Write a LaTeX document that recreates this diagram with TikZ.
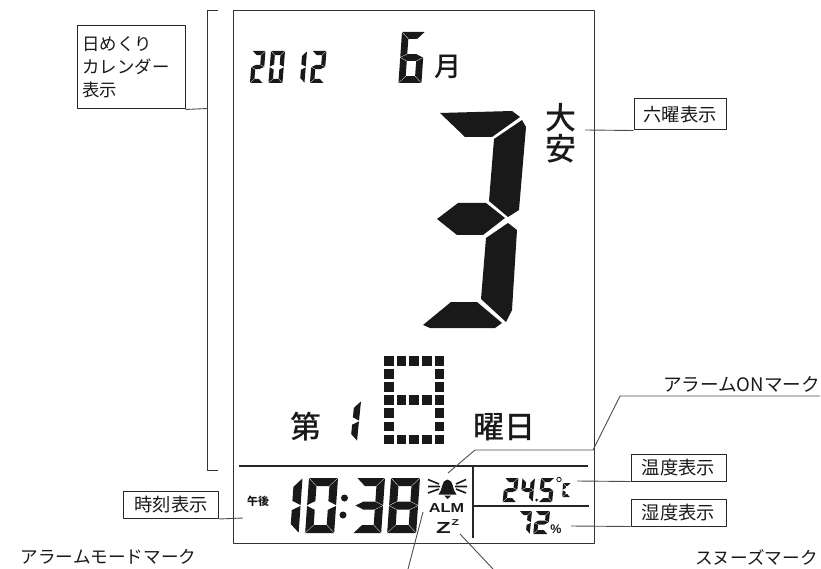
\documentclass[tikz,border=0pt]{standalone}
\usepackage{fontspec}
\setmainfont{Noto Sans CJK JP}
\newfontfamily\medfont{Noto Sans CJK JP Medium}
\newfontfamily\latinfont{Liberation Sans}
\begin{document}
\begin{tikzpicture}[x=1pt,y=-1pt,line join=round,
	framesty/.style={draw=black!80,line width=1pt},
	lcdline/.style={draw=black!85,line width=1.4pt},
	leader/.style={draw=black!70,line width=.9pt},
	boxlabel/.style={draw=black!85,line width=1pt,fill=white,inner sep=0pt,minimum width=95pt,minimum height=27pt,font=\fontsize{18.3}{20}\selectfont,text=black!90},
	marklabel/.style={inner sep=0pt,font=\fontsize{17.6}{20}\selectfont,text=black!90},
	dispkanji/.style={inner sep=0pt,font=\medfont\fontsize{31}{32}\selectfont,text=black!90}]
	\useasboundingbox (0,0) rectangle (821,569);
	\def\lcda{\fill (\digg,0)--({\digw-\digg},0)--({\digw-\digt-\digg},\digt)--({\digt+\digg},\digt)--cycle;}
	\def\lcdb{\fill (\digw,\digg)--(\digw,{\digh/2-\digg})--({\digw-\digt},{\digh/2-\digt/2-\digg})--({\digw-\digt},{\digt+\digg})--cycle;}
	\def\lcdc{\fill (\digw,{\digh/2+\digg})--(\digw,{\digh-\digg})--({\digw-\digt},{\digh-\digt-\digg})--({\digw-\digt},{\digh/2+\digt/2+\digg})--cycle;}
	\def\lcdd{\fill (\digg,\digh)--({\digw-\digg},\digh)--({\digw-\digt-\digg},{\digh-\digt})--({\digt+\digg},{\digh-\digt})--cycle;}
	\def\lcde{\fill (0,{\digh/2+\digg})--(0,{\digh-\digg})--(\digt,{\digh-\digt-\digg})--(\digt,{\digh/2+\digt/2+\digg})--cycle;}
	\def\lcdf{\fill (0,\digg)--(0,{\digh/2-\digg})--(\digt,{\digh/2-\digt/2-\digg})--(\digt,{\digt+\digg})--cycle;}
	\def\lcdg{\fill (\digg,{\digh/2})--({\digt+\digg},{\digh/2-\digt/2})--({\digw-\digt-\digg},{\digh/2-\digt/2})--({\digw-\digg},{\digh/2})--({\digw-\digt-\digg},{\digh/2+\digt/2})--({\digt+\digg},{\digh/2+\digt/2})--cycle;}
	\def\lcd#1#2#3#4#5#6#7{\begin{scope}[shift={(#1,#2)},xslant=#6,fill=black!90]\def\digw{#3}\def\digh{#4}\def\digt{#5}\def\digg{.4}\foreach \s in {#7}{\csname lcd\s\endcsname}\end{scope}}
	% display frame
	\draw[framesty] (233,11) rectangle (594,543);
	\draw[lcdline] (239,466)--(588,466) (473,466)--(473,538) (473,506)--(589,506);
	\draw[framesty] (217.5,11)--(207.5,11)--(207.5,470.5)--(217.5,470.5);
	% date digits
	\lcd{252.5}{51}{13}{32}{4.2}{.08}{a,b,g,e,d}
	\lcd{271}{51}{14}{32}{4.2}{.08}{a,b,c,d,e,f}
	\lcd{298}{51}{9}{32}{4.6}{.08}{b,c}
	\lcd{312.5}{51}{14}{32}{4.2}{.08}{a,b,g,e,d}
	\lcd{402}{32}{23}{51}{6.8}{.07}{a,f,g,e,c,d}
	\node[dispkanji,font=\medfont\fontsize{27}{28}\selectfont] (month) at (448,67) {月};
	% big day digit
	\fill[black!90] (440,113)--(512,111)--(520,117)--(492,137)--(465,137)--cycle;
	\fill[black!90] (522,120)--(526,127)--(519,210)--(508,217)--(489,201)--(494,139)--cycle;
	\fill[black!90] (437,219)--(458,203)--(486,203)--(505,218)--(483,235)--(457,235)--cycle;
	\fill[black!90] (508,223)--(517,230)--(512,310)--(506,322)--(481,299)--(486,238)--cycle;
	\fill[black!90] (423,325)--(451,302)--(477,302)--(502,323)--(495,328)--(430,328)--cycle;
	\node[dispkanji] (rokuyo) at (561,118) {大};
	\node[dispkanji] (rokuyob) at (561,149) {安};
	% week row
	\node[dispkanji] (dai) at (306,427) {第};
	\lcd{351}{401}{10}{40}{6.5}{.1}{b,c}
	\foreach \i in {0,...,4} \foreach \j in {0,...,6}{
		\ifnum\j=0 \def\dotok{1}\else\ifnum\j=3 \def\dotok{1}\else\ifnum\j=6 \def\dotok{1}\else\ifnum\i=0 \def\dotok{1}\else\ifnum\i=4 \def\dotok{1}\else\def\dotok{0}\fi\fi\fi\fi\fi
		\ifnum\dotok=1 \fill[black!90] ({384+12.67*\i},{356+13.1*\j}) rectangle +(9.7,9.8);\fi}
	\node[dispkanji] (youbi) at (504,427) {曜日};
	% clock
	\node[dispkanji,font=\medfont\fontsize{11}{12}\selectfont\bfseries] (gogo) at (258,501) {午後};
	\lcd{291.5}{478}{11}{55}{8.5}{.07}{b,c}
	\lcd{309}{478}{29}{55}{8}{.07}{a,b,c,d,e,f}
	\fill[black!90] (344.5,498) circle (3.5) (343,515) circle (3.5);
	\lcd{357}{478}{28}{55}{8}{.07}{a,b,c,d,g}
	\lcd{391}{478}{29}{55}{8}{.07}{a,b,c,d,e,f,g}
	% bell and rays
	\fill[black!90] (447.5,479.5) .. controls (441,480) and (443,490) .. (438.5,494.5)--(456.5,494.5) .. controls (452,490) and (454,480) .. (447.5,479.5)--cycle;
	\fill[black!90] (444,495.5)--(451,495.5)--(447.5,499)--cycle;
	\draw[black!90,line width=1.6pt] (428,479.5)--(439,484) (428,486.5)--(440,486.5) (428,493)--(439,489) (456,484)--(466,479.5) (455,486.5)--(467,486.5) (456,489)--(466,493);
	\node[inner sep=0pt,xscale=1.25,font=\latinfont\fontsize{13}{14}\selectfont\bfseries,text=black!90] (alm) at (446.5,508.5) {ALM};
	\node[inner sep=0pt,xscale=1.5,font=\latinfont\fontsize{16}{17}\selectfont\bfseries,text=black!90] (zbig) at (443.5,527.5) {Z};
	\node[inner sep=0pt,xscale=1.45,font=\latinfont\fontsize{8.5}{9}\selectfont\bfseries,text=black!90] (zsmall) at (455.5,523) {Z};
	% temperature and humidity
	\lcd{505}{478}{13.5}{24}{4}{.1}{a,b,g,e,d}
	\lcd{522.5}{478}{12.5}{24}{4}{.1}{f,g,b,c}
	\fill[black!90] (536.5,500) circle (1.5);
	\lcd{541}{478}{13.5}{24}{4}{.1}{a,f,g,c,d}
	\draw[black!90,line width=.8pt] (559,479.5) circle (2.2);
	\lcd{563}{483}{8}{14}{3}{.05}{a,f,e,d}
	\lcd{519.5}{511}{12.5}{23}{4}{.1}{a,b,c}
	\lcd{535.5}{511}{14.5}{23}{4}{.1}{a,b,g,e,d}
	\node[inner sep=0pt,font=\latinfont\fontsize{12.5}{13}\selectfont\bfseries,text=black!90] (pct) at (556,529) {\%};
	% labels
	\node[boxlabel,minimum width=107.5pt,minimum height=83pt,text width=97.5pt,align=left,font=\fontsize{17.4}{22.8}\selectfont] (calbox) at (131.25,67.5) {日めくり\\カレンダー\\表示};
	\node[boxlabel] (clockbox) at (171,505) {時刻表示};
	\node[boxlabel,minimum width=92pt,minimum height=31pt] (rokubox) at (680,114.5) {六曜表示};
	\node[boxlabel] (tempbox) at (678.5,467.5) {温度表示};
	\node[boxlabel] (humbox) at (678.5,512.5) {湿度表示};
	\node[marklabel,font=\fontsize{18.6}{20}\selectfont] (almonlabel) at (741.5,384) {アラームONマーク};
	\node[marklabel] (almmodelabel) at (108.5,557) {アラームモードマーク};
	\node[marklabel] (snoozelabel) at (756.5,557) {スヌーズマーク};
	% leaders
	\coordinate (calend) at (207.5,108.5);
	\coordinate (clockend) at (243,518);
	\coordinate (rokuend) at (585,130);
	\coordinate (tempend) at (577,481);
	\coordinate (humend) at (571,526);
	\coordinate (almonstart) at (820,396);
	\coordinate (almonend) at (448,473);
	\coordinate (almmodea) at (423,512);
	\coordinate (almmodeb) at (408,569);
	\coordinate (snoozea) at (460,534);
	\coordinate (snoozeb) at (493,569);
	\draw[leader] (calbox.south east)--(calend);
	\draw[leader] (clockbox.south east)--(clockend);
	\draw[leader] (rokubox.south west)--(rokuend);
	\draw[leader] (tempbox.south west)--(tempend);
	\draw[leader] (humbox.south west)--(humend);
	\draw[leader] (almonstart)--(620,396)--(593,450)--(475,450)--(almonend);
	\draw[leader] (almmodea)--(almmodeb);
	\draw[leader] (snoozea)--(snoozeb);
\end{tikzpicture}
\end{document}
